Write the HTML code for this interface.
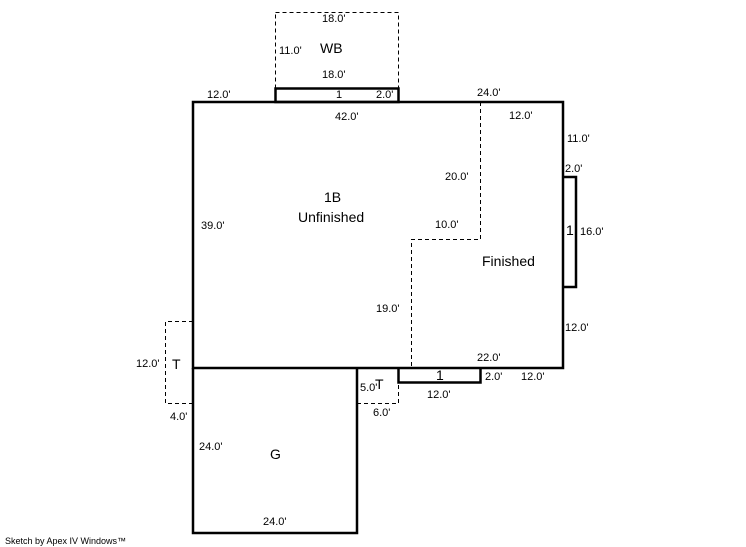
<!DOCTYPE html>
<html><head><meta charset="utf-8"><style>
html,body{margin:0;padding:0;background:#fff;width:746px;height:547px;overflow:hidden}
svg{display:block}
text{font-family:"Liberation Sans",Arial,sans-serif;fill:#000}
.s{font-size:11px}
.b{font-size:14px}
</style></head><body>
<svg width="746" height="547" viewBox="0 0 746 547" xmlns="http://www.w3.org/2000/svg">
<g fill="none" stroke="#000" stroke-width="1" stroke-dasharray="4,3">
<rect x="275.5" y="12.5" width="123" height="76"/>
<polyline points="480.5,102 480.5,239.5 411.5,239.5 411.5,368"/>
<polyline points="193,321.5 165.5,321.5 165.5,403.5 193,403.5"/>
<polyline points="357,403.5 398.5,403.5 398.5,382"/>
</g>
<g fill="none" stroke="#000" stroke-width="2.5">
<rect x="193" y="102" width="370" height="266"/>
<rect x="275.5" y="88.5" width="123" height="13.5"/>
<polyline points="563,177 576,177 576,287 563,287"/>
<polyline points="398.5,368 398.5,382.5 480.5,382.5 480.5,368"/>
<polyline points="193,368 193,533 357,533 357,368"/>
</g>
<text class="s" x="322" y="22">18.0'</text>
<text class="b" x="320" y="53">WB</text>
<text class="s" x="279" y="54">11.0'</text>
<text class="s" x="322" y="78">18.0'</text>
<text class="s" x="207" y="98">12.0'</text>
<text class="s" x="336" y="98">1</text>
<text class="s" x="376" y="98">2.0'</text>
<text class="s" x="477" y="96">24.0'</text>
<text class="s" x="335" y="120">42.0'</text>
<text class="s" x="509" y="119">12.0'</text>
<text class="s" x="567" y="142">11.0'</text>
<text class="s" x="565" y="172">2.0'</text>
<text class="s" x="445" y="180">20.0'</text>
<text class="b" x="324" y="202">1B</text>
<text class="b" x="298" y="222">Unfinished</text>
<text class="s" x="201" y="229">39.0'</text>
<text class="s" x="435" y="228">10.0'</text>
<text class="b" x="566" y="235">1</text>
<text class="s" x="580" y="235">16.0'</text>
<text class="b" x="482" y="266">Finished</text>
<text class="s" x="376" y="312">19.0'</text>
<text class="s" x="565" y="331">12.0'</text>
<text class="s" x="136" y="367">12.0'</text>
<text class="b" x="172" y="369">T</text>
<text class="s" x="477" y="361">22.0'</text>
<text class="s" x="360" y="391">5.0'</text>
<text class="b" x="375" y="389">T</text>
<text class="b" x="436" y="380">1</text>
<text class="s" x="485" y="380">2.0'</text>
<text class="s" x="521" y="380">12.0'</text>
<text class="s" x="427" y="398">12.0'</text>
<text class="s" x="170" y="420">4.0'</text>
<text class="s" x="373" y="416">6.0'</text>
<text class="s" x="199" y="450">24.0'</text>
<text class="b" x="270" y="459">G</text>
<text class="s" x="263" y="525">24.0'</text>
<text x="5" y="544" style="font-size:9px">Sketch by Apex IV Windows™</text>
</svg>
</body></html>
